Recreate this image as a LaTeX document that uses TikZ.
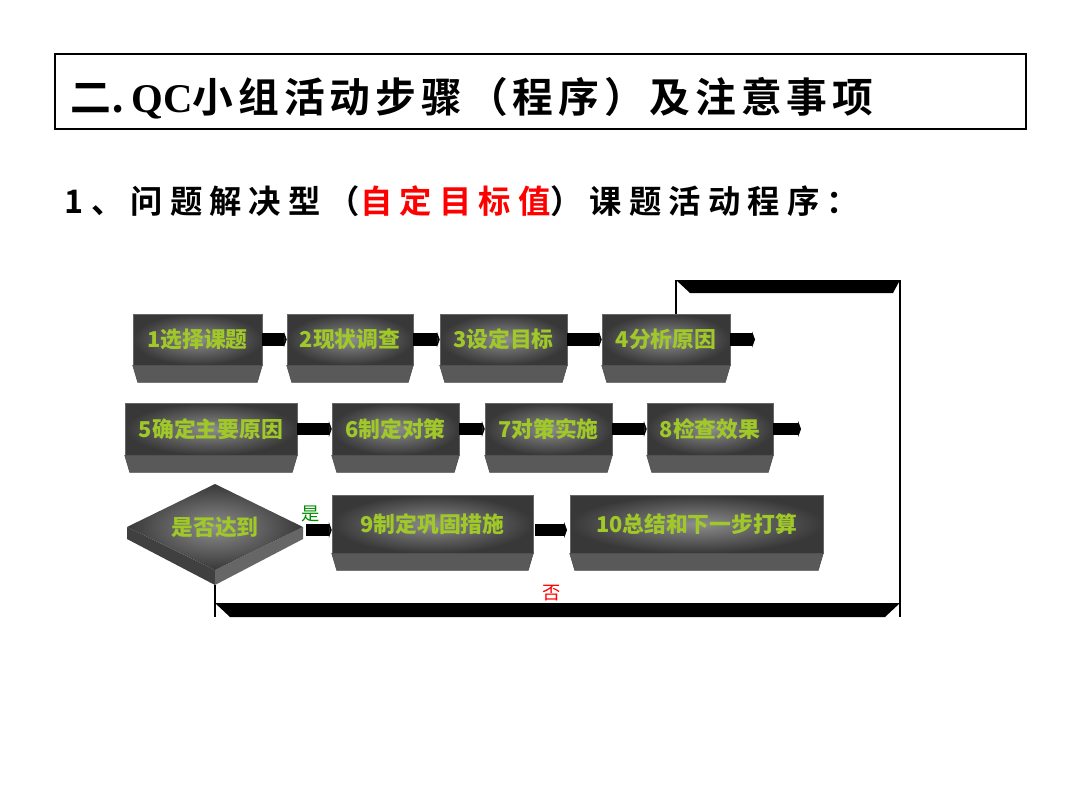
\documentclass[tikz,border=0pt]{standalone}
\usepackage{fontspec}
\setmainfont{Liberation Serif}
\newfontfamily\cjk{Noto Sans CJK SC}
\newfontfamily\cjkb{Noto Sans CJK SC Bold}
\newfontfamily\cjkt{Noto Sans CJK SC Bold}[LetterSpace=12]
\newfontfamily\cjksp{Noto Sans CJK SC Bold}[LetterSpace=22]
\usetikzlibrary{calc,arrows.meta}
\definecolor{lbl}{RGB}{160,200,40}
\tikzset{
  face/.style={inner sep=0pt, inner color=black!45, outer color=black!78, draw=black!60,
    text=lbl, font=\fontsize{15.5}{15.5}\selectfont\bfseries\cjk},
  bevel/.style={fill=black!65, draw=black!70},
  flow/.style={line width=9pt, -{Triangle[length=2pt,width=11pt]}, black},
  wire/.style={line width=0.8pt, black}
}
\newcommand{\stepbox}[6]{% name, x1, x2, ytop, ybot, text
  \node[face, minimum width={(#3-#2)*0.025cm}, minimum height={(#5-#4)*0.025cm}]
    (#1) at ({(#2+#3)/2},{(#4+#5)/2}) {#6};
  \fill[bevel] (#1.south west) -- (#1.south east) -- ++(-5,17) -- ($(#1.south west)+(5,17)$) -- cycle;
}
\begin{document}
\begin{tikzpicture}[x=0.025cm,y=-0.025cm]
\useasboundingbox[fill=white] (0,0) rectangle (1080,810);

% title
\node[draw, line width=1pt, minimum width=971*0.025cm, minimum height=75*0.025cm] (title) at (540.5,91.5) {};
\node[anchor=west, font=\fontsize{29}{29}\selectfont] (tt) at (66,98)
  {{\cjkb 二.}\,\textbf{QC}{\cjkt 小组活动步骤（程序）及注意事项}};
\node[anchor=west, font=\fontsize{23}{23}\selectfont\cjksp] (sub) at (60,201)
  {1、问题解决型（\textcolor{red}{自定目标值}）课题活动程序：};

% row 1
\stepbox{s1}{133}{262}{314}{365}{1选择课题}
\stepbox{s2}{287}{413}{314}{365}{2现状调查}
\stepbox{s3}{440}{567}{314}{365}{3设定目标}
\stepbox{s4}{602}{730}{314}{365}{4分析原因}
% row 2
\stepbox{s5}{125}{297}{403}{455}{5确定主要原因}
\stepbox{s6}{332}{459}{403}{455}{6制定对策}
\stepbox{s7}{485}{612}{403}{455}{7对策实施}
\stepbox{s8}{647}{773}{403}{455}{8检查效果}
% row 3
\stepbox{s9}{332}{533}{495}{553}{9制定巩固措施}
\stepbox{s10}{570}{823}{495}{553}{10总结和下一步打算}

% decision
\coordinate (dl) at (127,527); \coordinate (dt) at (215,484);
\coordinate (dr) at (303,527); \coordinate (db) at (215,570);
\fill[black!75] (dl) -- (db) -- ++(0,15) -- ($(dl)+(0,12)$) -- cycle;
\fill[black!60] (db) -- (dr) -- ($(dr)+(0,12)$) -- ($(db)+(0,15)$) -- cycle;
\shade[inner color=black!45, outer color=black!78] (dl) -- (dt) -- (dr) -- (db) -- cycle;
\node[text=lbl, font=\fontsize{15.5}{15.5}\selectfont\bfseries\cjk] (dec) at (215,527) {是否达到};
\node[text=green!55!black, font=\fontsize{13}{13}\selectfont\cjk] (yes) at (311,514) {是};

% flow arrows
\draw[flow] (s1.east) -- (s2.west);
\draw[flow] (s2.east) -- (s3.west);
\draw[flow] (s3.east) -- (s4.west);
\coordinate (o4) at (755,0 |- s4.east);
\draw[flow] (s4.east) -- (o4);
\draw[flow] (s5.east) -- (s6.west);
\draw[flow] (s6.east) -- (s7.west);
\draw[flow] (s7.east) -- (s8.west);
\coordinate (o8) at (801,0 |- s8.east);
\draw[flow] (s8.east) -- (o8);
\coordinate (d9) at (306,530);
\draw[flow] (d9) -- (s9.west |- d9);
\coordinate (a9) at (535,530); \coordinate (a10) at (567,530);
\draw[flow] (a9) -- (a10);

% feedback loop
\coordinate (lb) at (215,617); \coordinate (rb) at (900,617);
\coordinate (rt) at (900,280); \coordinate (lt) at (676,280);
\fill (215,603) -- (900,603) -- (885,617) -- (230,617) -- cycle;
\fill (676,280) -- (900,280) -- (893,293) -- (690,293) -- cycle;
\draw[wire] ($(db)+(0,15)$) -- (lb);
\draw[wire] (rb) -- (rt);
\draw[wire] (lt) -- (s4.north -| lt);
\node[text=red, font=\fontsize{13}{13}\selectfont\cjk] (no) at (552,593) {否};
\end{tikzpicture}
\end{document}
